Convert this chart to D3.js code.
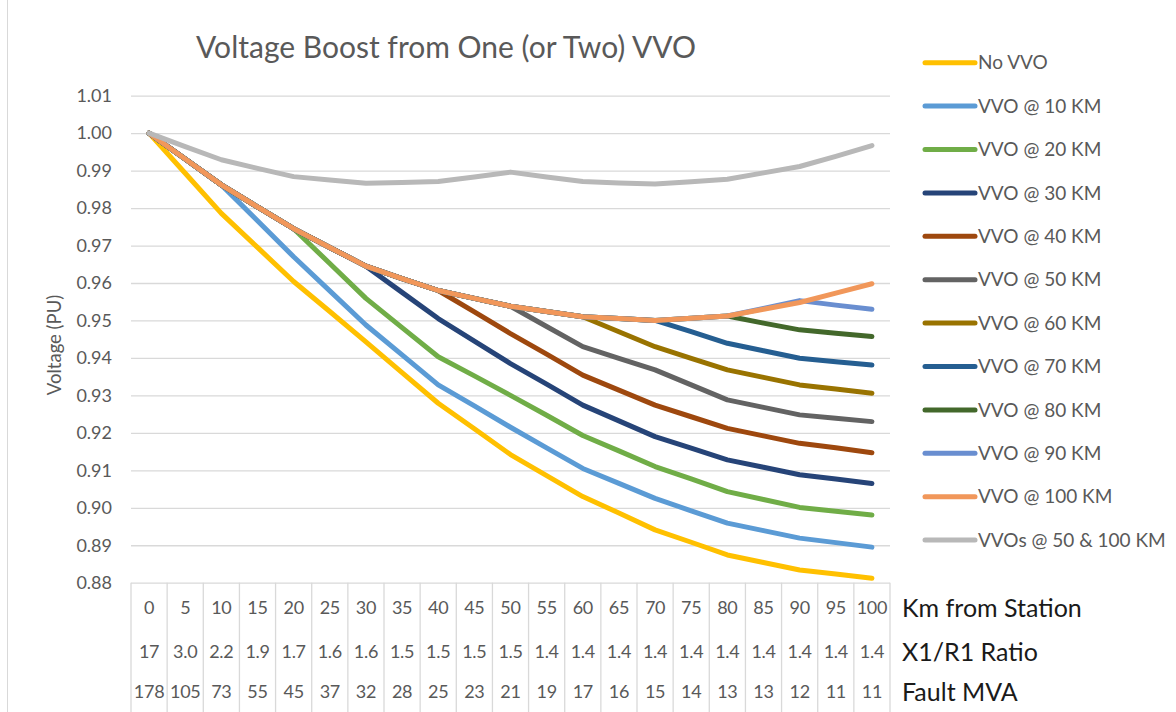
<!DOCTYPE html>
<html>
<head>
<meta charset="utf-8">
<script src="https://cdn.jsdelivr.net/npm/d3@7"></script>
<style>
  body { margin: 0; background: #fff; }
  svg { display: block; font-family: Lato, "Open Sans", sans-serif; }
</style>
</head>
<body>
<svg id="chart" width="1176" height="712"></svg>
<script>
// categories and table rows
const km = [0, 5, 10, 15, 20, 25, 30, 35, 40, 45, 50, 55, 60, 65, 70, 75, 80, 85, 90, 95, 100];
const x1r1 = ["17", "3.0", "2.2", "1.9", "1.7", "1.6", "1.6", "1.5", "1.5", "1.5", "1.5", "1.4", "1.4", "1.4", "1.4", "1.4", "1.4", "1.4", "1.4", "1.4", "1.4"];
const faultMva = ["178", "105", "73", "55", "45", "37", "32", "28", "25", "23", "21", "19", "17", "16", "15", "14", "13", "13", "12", "11", "11"];

// voltage series (PU), one value per km
const noVvo  = [1.000, 0.9893, 0.9786, 0.9695, 0.9604, 0.9524, 0.9443, 0.9361, 0.9279, 0.9211, 0.9142, 0.9086, 0.9030, 0.8986, 0.8941, 0.8908, 0.8874, 0.8854, 0.8834, 0.8823, 0.8812];
const vvo10  = [1.000, 0.9931, 0.9862, 0.9766, 0.9670, 0.9579, 0.9488, 0.9408, 0.9328, 0.9272, 0.9215, 0.9160, 0.9105, 0.9065, 0.9025, 0.8992, 0.8959, 0.8939, 0.8919, 0.8907, 0.8895];
const vvo20  = [1.000, 0.9931, 0.9862, 0.9803, 0.9745, 0.9652, 0.9559, 0.9481, 0.9403, 0.9352, 0.9300, 0.9247, 0.9193, 0.9152, 0.9110, 0.9077, 0.9043, 0.9022, 0.9001, 0.8991, 0.8981];
const vvo30  = [1.000, 0.9931, 0.9862, 0.9803, 0.9745, 0.9695, 0.9645, 0.9575, 0.9505, 0.9445, 0.9385, 0.9330, 0.9274, 0.9232, 0.9190, 0.9159, 0.9128, 0.9108, 0.9088, 0.9077, 0.9065];
const vvo40  = [1.000, 0.9931, 0.9862, 0.9803, 0.9745, 0.9695, 0.9645, 0.9612, 0.9580, 0.9523, 0.9465, 0.9410, 0.9354, 0.9314, 0.9274, 0.9243, 0.9212, 0.9192, 0.9172, 0.9160, 0.9147];
const vvo50  = [1.000, 0.9931, 0.9862, 0.9803, 0.9745, 0.9695, 0.9645, 0.9612, 0.9580, 0.9559, 0.9538, 0.9484, 0.9430, 0.9399, 0.9368, 0.9328, 0.9288, 0.9268, 0.9248, 0.9239, 0.9230];
const vvo60  = [1.000, 0.9931, 0.9862, 0.9803, 0.9745, 0.9695, 0.9645, 0.9612, 0.9580, 0.9559, 0.9538, 0.9524, 0.9510, 0.9470, 0.9430, 0.9399, 0.9368, 0.9348, 0.9328, 0.9317, 0.9306];
const vvo70  = [1.000, 0.9931, 0.9862, 0.9803, 0.9745, 0.9695, 0.9645, 0.9612, 0.9580, 0.9559, 0.9538, 0.9524, 0.9510, 0.9505, 0.9500, 0.9470, 0.9439, 0.9419, 0.9399, 0.9390, 0.9381];
const vvo80  = [1.000, 0.9931, 0.9862, 0.9803, 0.9745, 0.9695, 0.9645, 0.9612, 0.9580, 0.9559, 0.9538, 0.9524, 0.9510, 0.9505, 0.9500, 0.9506, 0.9512, 0.9493, 0.9475, 0.9466, 0.9457];
const vvo90  = [1.000, 0.9931, 0.9862, 0.9803, 0.9745, 0.9695, 0.9645, 0.9612, 0.9580, 0.9559, 0.9538, 0.9524, 0.9510, 0.9505, 0.9500, 0.9506, 0.9512, 0.9532, 0.9553, 0.9541, 0.9530];
const vvo100 = [1.000, 0.9931, 0.9862, 0.9803, 0.9745, 0.9695, 0.9645, 0.9612, 0.9580, 0.9559, 0.9538, 0.9524, 0.9510, 0.9505, 0.9500, 0.9506, 0.9512, 0.9530, 0.9548, 0.9573, 0.9598];
const vvoTwo = [1.000, 0.9964, 0.9929, 0.9906, 0.9884, 0.9875, 0.9866, 0.9868, 0.9871, 0.9883, 0.9896, 0.9883, 0.9871, 0.9867, 0.9864, 0.9870, 0.9877, 0.9894, 0.9911, 0.9938, 0.9967];

const seriesNames = ["No VVO", "VVO @ 10 KM", "VVO @ 20 KM", "VVO @ 30 KM", "VVO @ 40 KM", "VVO @ 50 KM",
  "VVO @ 60 KM", "VVO @ 70 KM", "VVO @ 80 KM", "VVO @ 90 KM", "VVO @ 100 KM", "VVOs @ 50 & 100 KM"];
const seriesValues = [noVvo, vvo10, vvo20, vvo30, vvo40, vvo50, vvo60, vvo70, vvo80, vvo90, vvo100, vvoTwo];
const seriesColors = ["#FFC000", "#5B9BD5", "#70AD47", "#264478", "#9E480E", "#636363",
  "#997300", "#255E91", "#43682B", "#698ED0", "#F1975A", "#B8B8B8"];

const svg = d3.select("#chart");
const textGray = "#595959";
const gridGray = "#D9D9D9";

// chart area border (left edge only shows)
svg.append("line").attr("x1", 7.5).attr("x2", 7.5).attr("y1", 0).attr("y2", 712)
  .attr("stroke", gridGray).attr("stroke-width", 1);

const x = d3.scaleBand().domain(km).range([131, 890]).padding(0);
const y = d3.scaleLinear().domain([0.88, 1.01]).range([582.7, 95.7]);
const cx = d => x(d) + x.bandwidth() / 2;

// title
svg.append("text").attr("x", 446).attr("y", 58).attr("text-anchor", "middle")
  .attr("font-size", 30).attr("fill", textGray)
  .text("Voltage Boost from One (or Two) VVO");

// y gridlines + labels
const yAxis = d3.axisLeft(y).tickValues(y.ticks(13)).tickFormat(d3.format(".2f"))
  .tickSize(-(890 - 131)).tickPadding(19);
const gy = svg.append("g").attr("transform", "translate(131,0)").call(yAxis);
gy.select(".domain").remove();
gy.selectAll(".tick line").attr("stroke", gridGray).attr("stroke-width", 1.3);
gy.selectAll(".tick text").attr("fill", textGray).attr("font-size", 18)
  .attr("font-family", "Lato, 'Open Sans', sans-serif");

// y axis title
svg.append("text").attr("transform", "translate(61,345) rotate(-90)")
  .attr("text-anchor", "middle").attr("font-size", 18.5).attr("fill", textGray)
  .text("Voltage (PU)");

// table below the plot: cell borders
const tableTop = y(0.88);
const bounds = km.map(d => x(d)).concat([x(km[km.length - 1]) + x.bandwidth()]);
svg.append("g").selectAll("line").data(bounds).join("line")
  .attr("x1", d => d).attr("x2", d => d)
  .attr("y1", tableTop).attr("y2", 712)
  .attr("stroke", gridGray).attr("stroke-width", 1.3);

const rows = [
  { label: "Km from Station", values: km.map(String), y: 608 },
  { label: "X1/R1 Ratio", values: x1r1, y: 652 },
  { label: "Fault MVA", values: faultMva, y: 692 }
];
rows.forEach(r => {
  svg.append("g").selectAll("text").data(r.values).join("text")
    .attr("x", (d, i) => cx(km[i]))
    .attr("y", r.y).attr("dy", "0.35em").attr("text-anchor", "middle")
    .attr("font-size", 18).attr("fill", textGray)
    .attr("letter-spacing", -0.3)
    .text(d => d);
  svg.append("text").attr("x", 902).attr("y", r.y).attr("dy", "0.35em")
    .attr("font-size", 25).attr("fill", "#1a1a1a").text(r.label);
});

// lines
const line = d3.line().x((d, i) => cx(km[i])).y(d => y(d));
svg.append("g").selectAll("path").data(seriesValues).join("path")
  .attr("d", d => line(d))
  .attr("fill", "none")
  .attr("stroke", (d, i) => seriesColors[i])
  .attr("stroke-width", 5)
  .attr("stroke-linecap", "round")
  .attr("stroke-linejoin", "round");

// legend
const legend = svg.append("g").selectAll("g").data(seriesNames).join("g")
  .attr("transform", (d, i) => `translate(925,${62.7 + i * 43.4})`);
legend.append("line").attr("x1", 0).attr("x2", 50)
  .attr("stroke", (d, i) => seriesColors[i]).attr("stroke-width", 5)
  .attr("stroke-linecap", "round");
legend.append("text").attr("x", 53).attr("dy", "0.35em")
  .attr("font-size", 19).attr("fill", textGray).text(d => d);
</script>
</body>
</html>
